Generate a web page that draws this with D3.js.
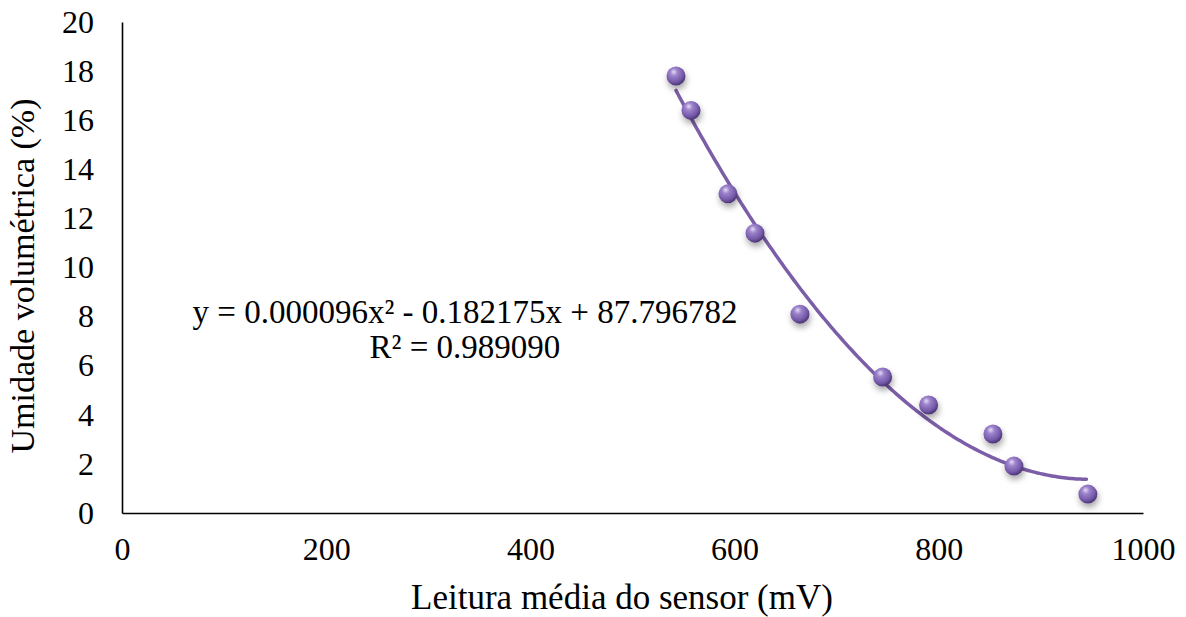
<!DOCTYPE html>
<html>
<head>
<meta charset="utf-8">
<script src="https://cdn.jsdelivr.net/npm/d3@7"></script>
<style>
  body { margin: 0; background: #fff; }
  svg text { font-family: "Times New Roman", "Liberation Serif", "DejaVu Serif", serif; fill: #000; }
</style>
</head>
<body>
<svg id="chart"></svg>
<script>
const width = 1186, height = 617;
const margin = { top: 22, right: 43, bottom: 104, left: 122 };
const serif = "'Times New Roman', 'Liberation Serif', 'DejaVu Serif', serif";

// leituras (mV) e umidade (%)
const leitura = [542.6, 557.3, 593.5, 620, 664, 745, 790, 853, 873.6, 946];
const umidade = [17.8, 16.4, 13.0, 11.4, 8.1, 5.54, 4.4, 3.22, 1.91, 0.77];
const xTicks = [0, 200, 400, 600, 800, 1000];
const yTicks = [0, 2, 4, 6, 8, 10, 12, 14, 16, 18, 20];
// trendline polynomial: a*x^2 + b*x + c
const coef = [0.000096, -0.182175, 87.796782];
const eqLines = ["y = 0.000096x² - 0.182175x + 87.796782", "R² = 0.989090"];

const svg = d3.select("#chart").attr("width", width).attr("height", height);

const x = d3.scaleLinear().domain([0, 1000]).range([margin.left, width - margin.right]);
const y = d3.scaleLinear().domain([0, 20]).range([height - margin.bottom, margin.top]);

const defs = svg.append("defs");
const grad = defs.append("radialGradient").attr("id", "ball")
  .attr("cx", "40%").attr("cy", "35%").attr("r", "65%").attr("fx", "38%").attr("fy", "28%");
grad.append("stop").attr("offset", "0%").attr("stop-color", "#e4daf5");
grad.append("stop").attr("offset", "30%").attr("stop-color", "#9d83cc");
grad.append("stop").attr("offset", "75%").attr("stop-color", "#7459a8");
grad.append("stop").attr("offset", "100%").attr("stop-color", "#4c3575");

const shadow = defs.append("filter").attr("id", "shadow")
  .attr("x", "-60%").attr("y", "-60%").attr("width", "220%").attr("height", "220%");
shadow.append("feDropShadow").attr("dx", 1).attr("dy", 4).attr("stdDeviation", 3)
  .attr("flood-color", "#000").attr("flood-opacity", 0.35);

// axes (no tick marks)
const xAxis = d3.axisBottom(x).tickValues(xTicks).tickFormat(d3.format("d")).tickSize(0).tickPadding(24);
const yAxis = d3.axisLeft(y).tickValues(yTicks).tickFormat(d3.format("d")).tickSize(0).tickPadding(28);

const gx = svg.append("g").attr("transform", `translate(0,${y(0)})`).call(xAxis);
const gy = svg.append("g").attr("transform", `translate(${x(0)},0)`).call(yAxis);
[gx, gy].forEach(g => {
  g.attr("font-family", serif).attr("font-size", 32);
  g.select(".domain").attr("stroke", "#000").attr("stroke-width", 1.6);
  g.selectAll("text").attr("fill", "#000");
});

// trendline
const pts = d3.range(leitura[0], leitura[leitura.length - 1] + 0.1, 2)
  .map(v => [v, coef[0] * v * v + coef[1] * v + coef[2]]);
svg.append("path")
  .datum(pts)
  .attr("fill", "none")
  .attr("stroke", "#7b5ea7")
  .attr("stroke-width", 3.5)
  .attr("stroke-linecap", "round")
  .attr("d", d3.line().x(d => x(d[0])).y(d => y(d[1])));

// points
svg.append("g").selectAll("circle")
  .data(leitura.map((v, i) => ({ x: v, y: umidade[i] })))
  .join("circle")
  .attr("cx", d => x(d.x))
  .attr("cy", d => y(d.y))
  .attr("r", 9.5)
  .attr("fill", "url(#ball)")
  .attr("filter", "url(#shadow)");

// equation label
svg.append("text")
  .attr("x", 465).attr("y", 323)
  .attr("text-anchor", "middle")
  .attr("font-family", serif)
  .attr("font-size", 33)
  .selectAll("tspan")
  .data(eqLines)
  .join("tspan")
  .attr("x", 465)
  .attr("dy", (d, i) => i === 0 ? 0 : 35)
  .text(d => d);

// axis titles
svg.append("text")
  .attr("x", 622).attr("y", 609)
  .attr("text-anchor", "middle")
  .attr("font-family", serif)
  .attr("font-size", 35)
  .text("Leitura média do sensor (mV)");

svg.append("text")
  .attr("transform", "rotate(-90)")
  .attr("x", -276).attr("y", 34)
  .attr("text-anchor", "middle")
  .attr("font-family", serif)
  .attr("font-size", 34)
  .text("Umidade volumétrica (%)");
</script>
</body>
</html>
